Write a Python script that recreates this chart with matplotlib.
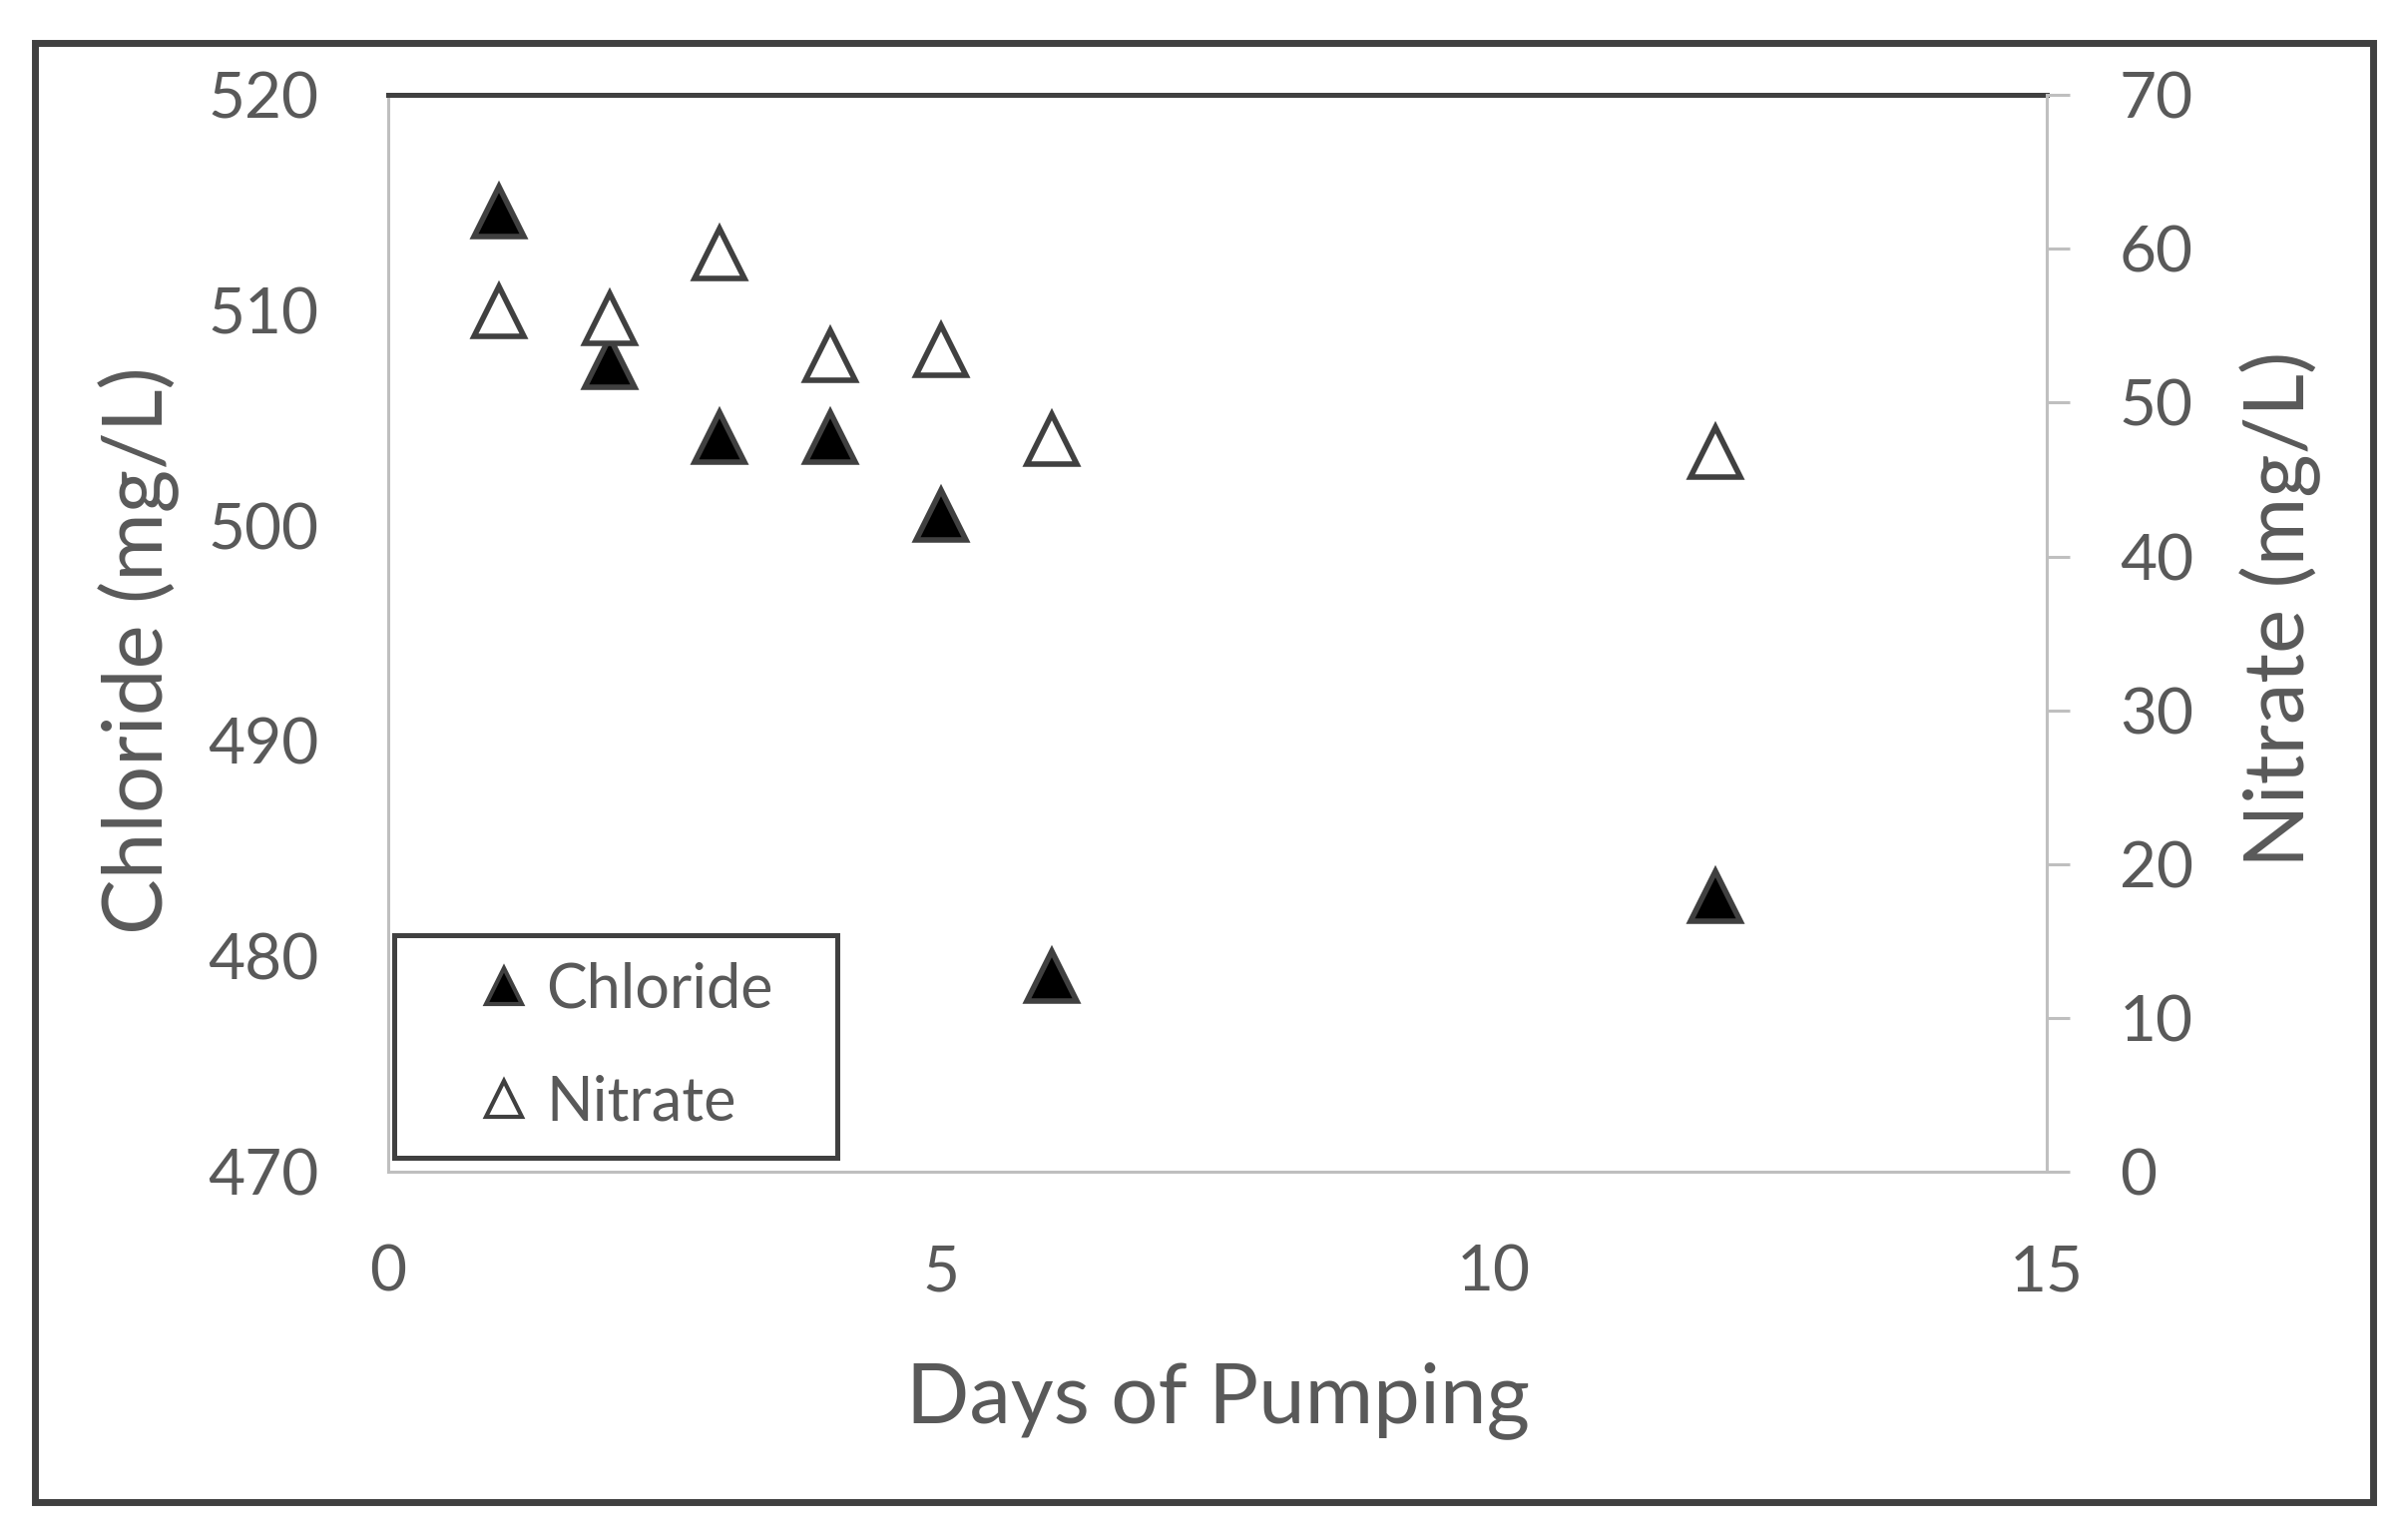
import matplotlib
matplotlib.use('Agg')
import matplotlib.pyplot as plt
from matplotlib.lines import Line2D
from matplotlib.patches import Rectangle

# data
days = [1, 2, 3, 4, 5, 6, 12]
chloride = [514.6, 507.6, 504.1, 504.1, 500.5, 479.1, 482.8]
nitrate = [55.9, 55.5, 59.7, 53.1, 53.4, 47.6, 46.8]

x_ticks = [0, 5, 10, 15]
cl_ticks = [470, 480, 490, 500, 510, 520]
no3_ticks = [0, 10, 20, 30, 40, 50, 60, 70]

plt.rcParams['font.family'] = ['Lato', 'DejaVu Sans']
txt = '#595959'
light = '#bfbfbf'
dark = '#404040'

fig = plt.figure(figsize=(24.13, 15.35), dpi=100)
ax = fig.add_axes([0.1612, 0.2352, 0.6888, 0.7028])
ax2 = ax.twinx()

# outer chart border
fig.patches.append(Rectangle((0.0145, 0.0195), 0.971, 0.9525, transform=fig.transFigure,
                             fill=False, edgecolor=dark, linewidth=5))

ax.plot(days, chloride, linestyle='none', marker='^', markersize=36,
        markerfacecolor='black', markeredgecolor=dark, markeredgewidth=4, zorder=3)
ax2.plot(days, nitrate, linestyle='none', marker='^', markersize=36,
         markerfacecolor='white', markeredgecolor=dark, markeredgewidth=4, zorder=3)

ax.set_xlim(0, 15)
ax.set_ylim(470, 520)
ax2.set_ylim(0, 70)
ax.set_xticks(x_ticks)
ax.set_yticks(cl_ticks)
ax2.set_yticks(no3_ticks)

for a in (ax, ax2):
    for s in a.spines.values():
        s.set_visible(False)
ax.spines['left'].set_visible(True)
ax.spines['bottom'].set_visible(True)
ax.spines['left'].set_color(light)
ax.spines['bottom'].set_color(light)
ax.spines['left'].set_linewidth(2.2)
ax.spines['bottom'].set_linewidth(2.2)
ax.spines['top'].set_visible(True)
ax.spines['top'].set_color(dark)
ax.spines['top'].set_linewidth(3.6)
ax2.spines['right'].set_visible(True)
ax2.spines['right'].set_color(light)
ax2.spines['right'].set_linewidth(2.2)

ax.tick_params(axis='x', length=0, pad=52, labelsize=46, labelcolor=txt)
ax.tick_params(axis='y', length=0, pad=50, labelsize=46, labelcolor=txt)
ax2.tick_params(axis='y', direction='out', length=16.5, width=2.2, color=light,
                pad=36, labelsize=46, labelcolor=txt)

ax.set_xlabel('Days of Pumping', fontsize=60, color=txt, va='center')
ax.xaxis.set_label_coords(0.5, -0.212)
ax.set_ylabel('Chloride (mg/L)', fontsize=60, color=txt, va='center')
ax.yaxis.set_label_coords(-0.150, 0.484)
ax2.set_ylabel('Nitrate (mg/L)', fontsize=60, color=txt, va='center', rotation=90)
ax2.yaxis.set_label_coords(1.141, 0.522)

# legend
handles = [
    Line2D([], [], linestyle='none', marker='^', markersize=26, markerfacecolor='black',
           markeredgecolor=dark, markeredgewidth=3),
    Line2D([], [], linestyle='none', marker='^', markersize=26, markerfacecolor='white',
           markeredgecolor=dark, markeredgewidth=3),
]
leg = ax2.legend(handles, ['Chloride', 'Nitrate'], loc='lower left',
                 bbox_to_anchor=(0.0036, 0.013, 0.2674, 0.2067), mode='expand',
                 fontsize=44, labelcolor=txt, fancybox=False, framealpha=1,
                 edgecolor=dark, borderpad=0.44, labelspacing=0.91,
                 handlelength=2.72, handletextpad=-0.67, borderaxespad=0)
leg.get_frame().set_linewidth(3.6)

fig.savefig('out.png', dpi=100, facecolor='white')
